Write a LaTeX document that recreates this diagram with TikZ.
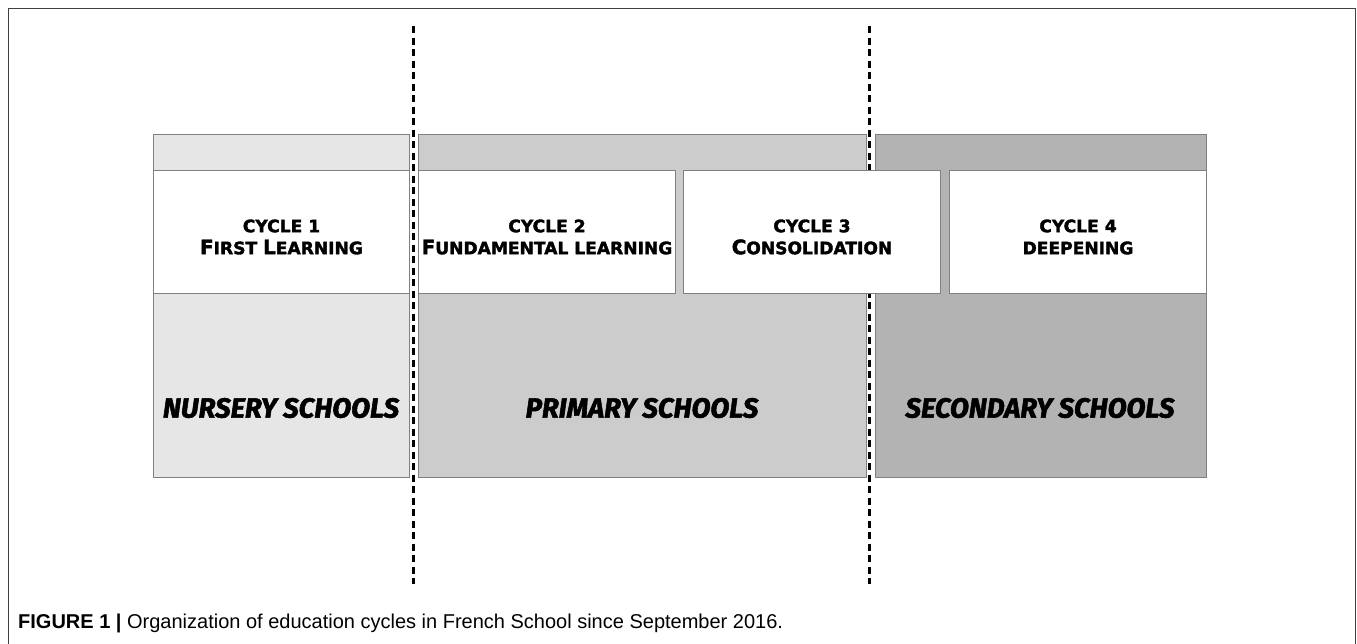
\documentclass[tikz,border=0pt]{standalone}
\usepackage{fontspec}
\setmainfont{Liberation Sans}
\newfontfamily\cyclefont{DejaVu Sans}[BoldFeatures={FakeBold=2}]
\newfontfamily\schoolfont{Fira Sans}[BoldItalicFeatures={FakeBold=2}]
\newfontfamily\capfont{Liberation Sans}
\newcommand\SCx[1]{{\fontsize{17.1}{22}\selectfont #1}}
\newcommand\BCx[1]{{\fontsize{19.9}{22}\selectfont #1}}
\definecolor{boxline}{HTML}{808080}
\definecolor{nurseryfill}{HTML}{E6E6E6}
\definecolor{primaryfill}{HTML}{CCCCCC}
\definecolor{secondaryfill}{HTML}{B3B3B3}
\tikzset{
  schoolbox/.style={draw=boxline, line width=1pt, anchor=north west, inner sep=0pt},
  cyclebox/.style={draw=boxline, line width=1pt, fill=white, anchor=north west, inner sep=0pt, minimum width=256pt, minimum height=123pt},
  cyclelabel/.style={align=center, inner sep=0pt, font=\cyclefont\bfseries\fontsize{17.1}{22}\selectfont},
  schoollabel/.style={inner sep=0pt, font=\schoolfont\bfseries\itshape\fontsize{27.6}{30}\selectfont},
  divider/.style={line width=3pt, dash pattern=on 7pt off 4.5pt},
  frameline/.style={draw=black!75, line width=1pt}
}
\begin{document}
\begin{tikzpicture}[x=1pt, y=-1pt]
\useasboundingbox (0,0) rectangle (1357,643);
% outer frame
\coordinate (fbl) at (8,645);
\coordinate (ftl) at (8,8);
\coordinate (ftr) at (1355,8);
\coordinate (fbr) at (1355,645);
\draw[frameline] (fbl) -- (ftl) -- (ftr) -- (fbr);
% dividers (behind boxes)
\coordinate (d1t) at (413,26);
\coordinate (d1b) at (413,584);
\coordinate (d2t) at (869,26);
\coordinate (d2b) at (869,584);
\draw[divider] (d1t) -- (d1b);
\draw[divider] (d2t) -- (d2b);
% school boxes
\node[schoolbox, fill=nurseryfill, minimum width=256pt, minimum height=343pt] (nursery) at (153,134) {};
\node[schoolbox, fill=primaryfill, minimum width=448pt, minimum height=343pt] (primary) at (418,134) {};
\node[schoolbox, fill=secondaryfill, minimum width=331pt, minimum height=343pt] (secondary) at (875,134) {};
% cycle boxes
\node[cyclebox] (c1) at (153,170) {};
\node[cyclebox, minimum width=257pt] (c2) at (418,170) {};
\node[cyclebox, minimum width=257pt] (c3) at (683,170) {};
\node[cyclebox, minimum width=257pt] (c4) at (949,170) {};
% cycle labels
\node[cyclelabel] (c1t) at ([yshift=-5pt]c1.center) {\SCx{CYCLE 1}\\\BCx{F}\SCx{IRST} \BCx{L}\SCx{EARNING}};
\node[cyclelabel] (c2t) at ([yshift=-5pt]c2.center) {\SCx{CYCLE 2}\\\BCx{F}\SCx{UNDAMENTAL LEARNING}};
\node[cyclelabel] (c3t) at ([yshift=-5pt]c3.center) {\SCx{CYCLE 3}\\\BCx{C}\SCx{ONSOLIDATION}};
\node[cyclelabel] (c4t) at ([yshift=-5pt]c4.center) {\SCx{CYCLE 4}\\\SCx{DEEPENING}};
% school labels
\node[schoollabel] (nt) at (281,408) {NURSERY SCHOOLS};
\node[schoollabel] (pt) at (642,408) {PRIMARY SCHOOLS};
\node[schoollabel] (st) at (1040,408) {SECONDARY SCHOOLS};
% caption
\node[anchor=base west, inner sep=0pt, font=\capfont\fontsize{20}{22}\selectfont] (cap) at (18,628) {\textbf{FIGURE 1 |} Organization of education cycles in French School since September 2016.};
\end{tikzpicture}
\end{document}
